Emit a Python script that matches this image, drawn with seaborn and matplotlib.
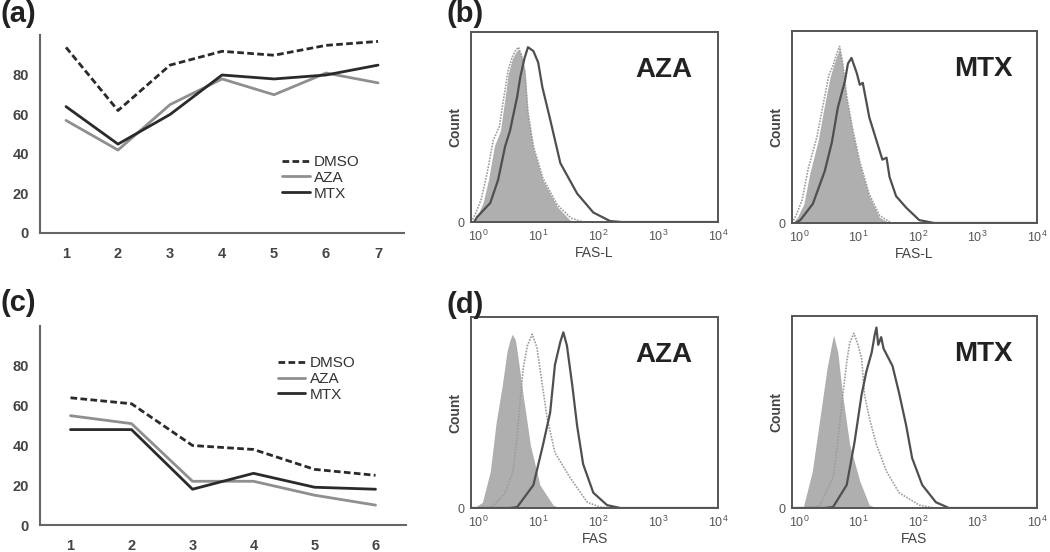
import matplotlib
matplotlib.use("Agg")
import matplotlib.pyplot as plt
import numpy as np
import pandas as pd
import seaborn as sns

# ---- (a) e (c): curvas por dia ----
dias_a = [1, 2, 3, 4, 5, 6, 7]
dmso_a = [94, 62, 85, 92, 90, 95, 97]
aza_a = [57, 42, 65, 78, 70, 81, 76]
mtx_a = [64, 45, 60, 80, 78, 80, 85]

dias_c = [1, 2, 3, 4, 5, 6]
dmso_c = [64, 61, 40, 38, 28, 25]
aza_c = [55, 51, 22, 22, 15, 10]
mtx_c = [48, 48, 18, 26, 19, 18]

tratamentos = ["DMSO", "AZA", "MTX"]
ticks_y = [0, 20, 40, 60, 80]

# ---- (b) FAS-L e (d) FAS: histogramas (posicao em decadas log10, altura em % da caixa) ----
bA_iso_log = [-0.10, -0.02, 0.08, 0.17, 0.27, 0.37, 0.45, 0.50, 0.57, 0.62, 0.67, 0.72, 0.78, 0.83, 0.92, 1.08, 1.32, 1.53, 1.70]
bA_iso_h = [0, 3, 10, 22, 40, 48, 66, 78, 86, 89, 91, 88, 80, 57, 39, 22, 8, 1, 0]
bA_dmso_log = [-0.12, -0.05, 0.05, 0.15, 0.25, 0.35, 0.43, 0.50, 0.57, 0.62, 0.67, 0.72, 0.78, 0.83, 0.92, 1.08, 1.32, 1.55, 1.75]
bA_dmso_h = [0, 4, 12, 26, 43, 50, 66, 80, 87, 90, 92, 88, 78, 58, 40, 23, 9, 2, 0]
bA_trat_log = [-0.07, -0.02, 0.20, 0.33, 0.45, 0.53, 0.65, 0.70, 0.77, 0.83, 0.92, 1.00, 1.07, 1.20, 1.37, 1.65, 1.92, 2.20, 2.40, 4.00]
bA_trat_h = [0, 2.6, 10, 22, 40, 48, 66, 76, 86, 92, 90, 84, 71, 54, 31, 15, 5, 0.5, 0, 0]

bM_iso_log = [-0.10, -0.03, 0.08, 0.18, 0.32, 0.40, 0.52, 0.57, 0.63, 0.68, 0.73, 0.80, 0.90, 1.02, 1.18, 1.35, 1.52]
bM_iso_h = [0, 3, 10, 26, 43, 57, 76, 81, 87, 91, 83, 65, 48, 31, 14, 3, 0]
bM_dmso_log = [-0.12, -0.05, 0.05, 0.15, 0.30, 0.38, 0.50, 0.57, 0.63, 0.68, 0.73, 0.80, 0.90, 1.02, 1.18, 1.35, 1.55]
bM_dmso_h = [0, 4, 12, 28, 45, 58, 77, 82, 88, 92, 84, 66, 49, 32, 15, 4, 0]
bM_trat_log = [-0.07, 0.02, 0.23, 0.43, 0.55, 0.65, 0.77, 0.82, 0.88, 0.97, 1.02, 1.07, 1.18, 1.30, 1.40, 1.47, 1.52, 1.63, 1.80, 2.02, 2.27, 4.00]
bM_trat_h = [0, 1.5, 10, 27, 42, 60, 74, 83, 86, 78, 72, 73, 55, 43, 33, 34, 24, 14, 8, 1.5, 0, 0]

dA_iso_log = [-0.07, 0.07, 0.20, 0.30, 0.40, 0.48, 0.53, 0.57, 0.62, 0.65, 0.75, 0.87, 1.03, 1.25, 1.37]
dA_iso_h = [0, 3, 19, 45, 64, 82, 88, 91, 88, 82, 59, 33, 12, 1.5, 0]
dA_dmso_log = [-0.12, 0.17, 0.28, 0.45, 0.58, 0.65, 0.70, 0.75, 0.82, 0.90, 0.98, 1.03, 1.15, 1.28, 1.53, 1.82, 2.03, 2.28]
dA_dmso_h = [0, 0, 2, 8, 19, 38, 56, 73, 85, 91, 84, 73, 47, 29, 16, 3, 0.5, 0]
dA_trat_log = [-0.12, 0.53, 0.65, 0.92, 1.08, 1.20, 1.28, 1.37, 1.42, 1.48, 1.57, 1.65, 1.75, 1.92, 2.15, 2.37, 4.00]
dA_trat_h = [0, 0, 0.5, 12, 33, 50, 75, 87, 92, 85, 64, 43, 23, 8, 1.5, 0, 0]

dM_iso_log = [-0.07, 0.07, 0.22, 0.35, 0.47, 0.55, 0.58, 0.65, 0.73, 0.85, 1.02, 1.18, 1.32]
dM_iso_h = [0, 0.5, 19, 47, 73, 86, 90, 81, 59, 33, 14, 1.5, 0]
dM_dmso_log = [-0.12, 0.22, 0.35, 0.57, 0.65, 0.72, 0.80, 0.85, 0.92, 0.98, 1.05, 1.10, 1.18, 1.30, 1.47, 1.68, 2.02, 2.27]
dM_dmso_h = [0, 0, 1.5, 16, 34, 55, 76, 86, 91, 86, 78, 59, 47, 33, 19, 8, 1.5, 0]
dM_trat_log = [-0.12, 0.43, 0.57, 0.80, 0.93, 1.05, 1.13, 1.22, 1.27, 1.30, 1.33, 1.38, 1.42, 1.47, 1.57, 1.68, 1.80, 1.90, 2.07, 2.30, 2.52, 4.00]
dM_trat_h = [0, 0, 0.5, 12, 34, 59, 71, 81, 90, 94, 85, 89, 83, 80, 74, 60, 43, 26, 12, 3, 0, 0]

sns.set_style("white")
plt.rcParams["font.family"] = ["Liberation Sans", "DejaVu Sans"]
plt.rcParams["text.color"] = "#333333"
plt.rcParams["axes.labelcolor"] = "#333333"
plt.rcParams["xtick.color"] = "#555555"
plt.rcParams["ytick.color"] = "#555555"

cores = {"DMSO": "#2a2a2a", "AZA": "#8f8f8f", "MTX": "#2a2a2a"}
tracos = {"DMSO": (2.4, 1.2), "AZA": "", "MTX": ""}


def painel_linhas(ax, dias, valores, pos_legenda):
    """Grafico de linhas estilo Excel, com categorias no eixo x."""
    df = pd.DataFrame({
        "dia": dias * 3,
        "valor": valores[0] + valores[1] + valores[2],
        "trat": [t for t in tratamentos for _ in dias],
    })
    sns.lineplot(data=df, x="dia", y="valor", hue="trat", style="trat",
                 palette=cores, dashes=tracos, linewidth=2.0, ax=ax)
    ax.set_xlim(dias[0] - 0.5, dias[-1] + 0.5)
    ax.set_ylim(0, 100)
    ax.set_yticks(ticks_y)
    ax.set_xticks(dias)
    ax.set_xticks([d - 0.5 for d in dias] + [dias[-1] + 0.5], minor=True)
    ax.tick_params(axis="x", which="major", length=0, pad=10, labelsize=10.5)
    ax.tick_params(axis="x", which="minor", length=4, width=1.3, direction="out")
    ax.tick_params(axis="y", length=4, width=1.3, direction="out", pad=4, labelsize=10.5)
    for lab in ax.get_xticklabels() + ax.get_yticklabels():
        lab.set_fontweight("bold")
        lab.set_color("#444444")
    sns.despine(ax=ax)
    for s in ["left", "bottom"]:
        ax.spines[s].set_color("#666666")
        ax.spines[s].set_linewidth(1.5)
    ax.set_xlabel("")
    ax.set_ylabel("")
    handles, labels = ax.get_legend_handles_labels()
    ax.legend(handles, labels, loc="upper left", bbox_to_anchor=pos_legenda,
              frameon=False, handlelength=1.8, handletextpad=0.3,
              labelspacing=0.12, borderpad=0, borderaxespad=0, fontsize=11)


def painel_hist(ax, curvas, nome, rotulo_x):
    iso_log, iso_h, dmso_log, dmso_h, trat_log, trat_h = curvas
    ax.fill_between(10 ** np.array(iso_log), iso_h, color="#afafaf", lw=0)
    sns.lineplot(x=10 ** np.array(dmso_log), y=dmso_h, ax=ax, color="#9c9c9c",
                 linewidth=1.2, linestyle=(0, (1, 0.8)))
    sns.lineplot(x=10 ** np.array(trat_log), y=trat_h, ax=ax, color="#4f4f4f",
                 linewidth=1.6)
    ax.set_xscale("log")
    ax.set_xlim(10 ** -0.12, 10 ** 4)
    ax.set_ylim(0, 100)
    ax.set_yticks([0])
    ax.tick_params(axis="both", which="major", length=3, width=1.0, labelsize=9, pad=2)
    ax.tick_params(axis="x", which="minor", length=2.5, width=1.0)
    for s in ax.spines.values():
        s.set_visible(True)
        s.set_color("#555555")
        s.set_linewidth(1.4)
    ax.text(0.78, 0.80, nome, transform=ax.transAxes, ha="center", va="center",
            fontsize=20, fontweight="bold", color="#222222")
    ax.set_ylabel("Count", fontsize=10, fontweight="bold", color="#444444")
    ax.yaxis.set_label_coords(-0.035, 0.5)
    ax.set_xlabel(rotulo_x, fontsize=10, color="#444444", labelpad=1)


fig = plt.figure(figsize=(10.5, 5.52), dpi=100)

ax_a = fig.add_axes([0.0381, 0.5779, 0.3467, 0.3578])
painel_linhas(ax_a, dias_a, [dmso_a, aza_a, mtx_a], (0.665, 0.395))

ax_c = fig.add_axes([0.0381, 0.0489, 0.3486, 0.3601])
painel_linhas(ax_c, dias_c, [dmso_c, aza_c, mtx_c], (0.65, 0.85))

ax_bA = fig.add_axes([0.4486, 0.5978, 0.2352, 0.3442])
painel_hist(ax_bA, [bA_iso_log, bA_iso_h, bA_dmso_log, bA_dmso_h, bA_trat_log, bA_trat_h], "AZA", "FAS-L")
ax_bM = fig.add_axes([0.7543, 0.5960, 0.2333, 0.3478])
painel_hist(ax_bM, [bM_iso_log, bM_iso_h, bM_dmso_log, bM_dmso_h, bM_trat_log, bM_trat_h], "MTX", "FAS-L")
ax_dA = fig.add_axes([0.4486, 0.0797, 0.2352, 0.3460])
painel_hist(ax_dA, [dA_iso_log, dA_iso_h, dA_dmso_log, dA_dmso_h, dA_trat_log, dA_trat_h], "AZA", "FAS")
ax_dM = fig.add_axes([0.7543, 0.0797, 0.2333, 0.3478])
painel_hist(ax_dM, [dM_iso_log, dM_iso_h, dM_dmso_log, dM_dmso_h, dM_trat_log, dM_trat_h], "MTX", "FAS")

# letras dos paineis
for letra, x, y in [("(a)", 0.0, 1.0), ("(b)", 0.425, 1.0), ("(c)", 0.0, 0.477), ("(d)", 0.425, 0.473)]:
    fig.text(x, y, letra, ha="left", va="top", fontsize=21, fontweight="bold", color="#222222")

fig.savefig("out.png", dpi=100)
